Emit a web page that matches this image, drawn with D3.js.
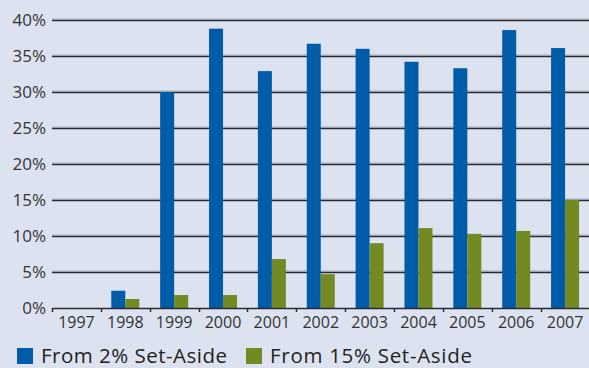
<!DOCTYPE html>
<html>
<head>
<meta charset="utf-8">
<script src="https://cdn.jsdelivr.net/npm/d3@7"></script>
<style>
  body { margin:0; background:#dde2f0; }
  svg { display:block; font-family:"Open Sans", sans-serif; }
</style>
</head>
<body>
<div id="canvas"></div>
<script>
// data
var years = ['1997','1998','1999','2000','2001','2002','2003','2004','2005','2006','2007'];
var series = ['From 2% Set-Aside','From 15% Set-Aside'];
var twoPct = [0, 2.4, 30.0, 38.8, 32.9, 36.7, 36.0, 34.2, 33.3, 38.6, 36.1];
var fifteenPct = [0, 1.25, 1.8, 1.8, 6.8, 4.7, 9.0, 11.1, 10.3, 10.7, 15.0];
var yTicks = [0,5,10,15,20,25,30,35,40];
var colors = ['#005ca8','#738a22'];

var W = 589, H = 368;

var svg = d3.select('#canvas').append('svg')
    .attr('width',W).attr('height',H);

svg.append('rect').attr('width',W).attr('height',H).attr('fill','#dde2f0');

var scaleX = d3.scaleBand().domain(years).range([52, 589.5]).padding(0);
var scaleX1 = d3.scaleBand().domain(series).range([0, scaleX.bandwidth()])
    .paddingInner(0).paddingOuter(0.745);
var scaleY = d3.scaleLinear().domain([0,40]).range([308,20]);

// gridlines
var grid = svg.append('g').attr('class','grid');
yTicks.forEach(function(t){
    if(t===0) return;
    grid.append('line')
        .attr('x1',52).attr('x2',W)
        .attr('y1',scaleY(t)-1).attr('y2',scaleY(t)-1)
        .attr('stroke','#a9adb9').attr('stroke-width',1);
    grid.append('line')
        .attr('x1',52).attr('x2',W)
        .attr('y1',scaleY(t)+0.5).attr('y2',scaleY(t)+0.5)
        .attr('stroke','#2b2c33').attr('stroke-width',1.5);
});

// y labels
svg.append('g').selectAll('text')
    .data(yTicks).enter().append('text')
    .attr('x',46).attr('y',function(d){return scaleY(d);})
    .attr('dy','0.36em')
    .attr('text-anchor','end')
    .attr('font-size',17)
    .attr('fill','#333')
    .text(function(d){return d+'%';});

// bars
var rows = years.map(function(y,i){ return {year:y, vals:[twoPct[i], fifteenPct[i]]}; });
var groups = svg.selectAll('.year').data(rows).enter().append('g')
    .attr('class','year')
    .attr('transform',function(d){return 'translate('+scaleX(d.year)+',0)';});
groups.selectAll('rect')
    .data(function(d){return d.vals.map(function(v,j){return {s:series[j], v:v, j:j};});})
    .enter().append('rect')
    .attr('x',function(d){return scaleX1(d.s);})
    .attr('width',scaleX1.bandwidth())
    .attr('y',function(d){return scaleY(d.v);})
    .attr('height',function(d){return scaleY(0)-scaleY(d.v);})
    .attr('fill',function(d){return colors[d.j];});

// x axis
var axisX = d3.axisBottom(scaleX).tickSize(0).tickPadding(9);
var gx = svg.append('g')
    .attr('transform','translate(0,308)')
    .call(axisX);
gx.select('.domain').remove();
gx.selectAll('text').attr('font-size',16).attr('fill','#333').attr('font-family','"Open Sans", sans-serif');
svg.append('line').attr('x1',52).attr('x2',W).attr('y1',308.5).attr('y2',308.5)
    .attr('stroke','#2b2c33').attr('stroke-width',1.5);
svg.append('g').selectAll('line')
    .data(years).enter().append('line')
    .attr('x1',function(d){return Math.round(scaleX(d))+0.5;})
    .attr('x2',function(d){return Math.round(scaleX(d))+0.5;})
    .attr('y1',308).attr('y2',312)
    .attr('stroke','#2b2c33').attr('stroke-width',1.5);

// legend
var legX = [17, 246];
var leg = svg.append('g').selectAll('g').data(series).enter().append('g')
    .attr('transform',function(d,i){return 'translate('+legX[i]+',348)';});
leg.append('rect').attr('width',16).attr('height',16)
    .attr('fill',function(d,i){return colors[i];});
leg.append('text').attr('x',24).attr('y',15)
    .attr('font-size',20.5).attr('fill','#222')
    .attr('textLength',function(d,i){return i===0 ? 186 : 202;})
    .attr('lengthAdjust','spacing')
    .text(function(d){return d;});
</script>
</body>
</html>
